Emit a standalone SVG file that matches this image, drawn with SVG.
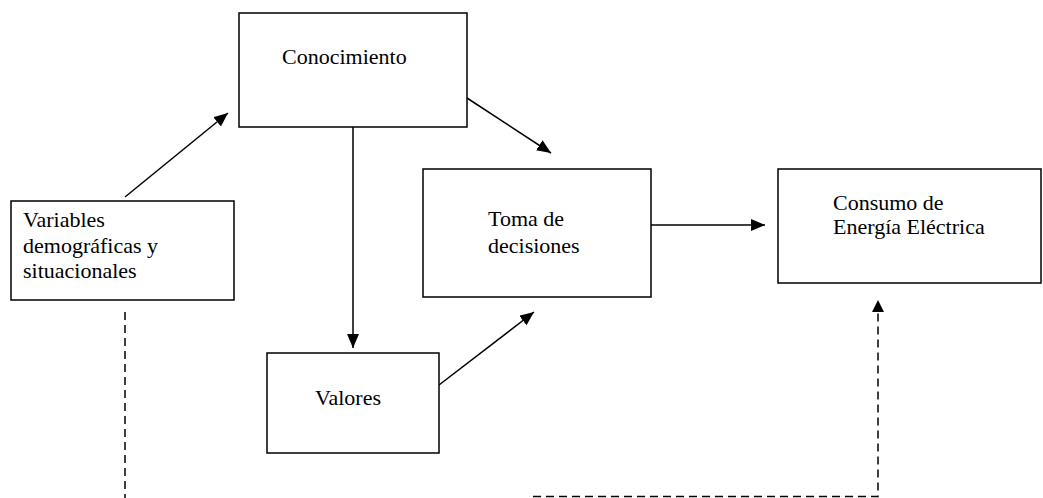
<svg xmlns="http://www.w3.org/2000/svg" width="1043" height="498" viewBox="0 0 1043 498">
<style>
.box{fill:#fff;stroke:#000;stroke-width:1.5}
.t{font-family:"Liberation Serif","Times New Roman",serif;font-size:22px;fill:#000}
.c{fill:none;stroke:#000;stroke-width:1.5}
.d{fill:none;stroke:#000;stroke-width:1.5;stroke-dasharray:8 5}
</style>
<defs>
<marker id="ah" markerWidth="14" markerHeight="12" refX="14" refY="6" orient="auto" markerUnits="userSpaceOnUse">
<path d="M0,0 L14,6 L0,12 z" fill="#000"/>
</marker>
</defs>
<rect width="1043" height="498" fill="#fff"/>
<g id="connectors">
<line class="c" x1="125" y1="197" x2="228" y2="113" marker-end="url(#ah)"/>
<line class="c" x1="467" y1="98" x2="551" y2="153" marker-end="url(#ah)"/>
<line class="c" x1="353" y1="127" x2="353" y2="348" marker-end="url(#ah)"/>
<line class="c" x1="439" y1="385" x2="534" y2="312" marker-end="url(#ah)"/>
<line class="c" x1="651" y1="225" x2="765" y2="225" marker-end="url(#ah)"/>
<line class="d" x1="125" y1="312" x2="125" y2="498"/>
<polyline class="d" points="533,496.5 878,496.5 878,312"/>
<path d="M872,312 L878,300 L884,312 z" fill="#000"/>
</g>
<g id="conocimiento">
<rect class="box" x="239" y="13" width="228" height="114"/>
<text class="t" x="282" y="64">Conocimiento</text>
</g>
<g id="variables">
<rect class="box" x="11" y="201" width="223" height="99"/>
<text class="t" x="23" y="227">Variables</text>
<text class="t" x="23" y="253">demográficas y</text>
<text class="t" x="23" y="278">situacionales</text>
</g>
<g id="toma">
<rect class="box" x="423" y="169" width="228" height="128"/>
<text class="t" x="488" y="226">Toma de</text>
<text class="t" x="488" y="253">decisiones</text>
</g>
<g id="consumo">
<rect class="box" x="778" y="169" width="263" height="114"/>
<text class="t" x="833" y="210">Consumo de</text>
<text class="t" x="833" y="234">Energía Eléctrica</text>
</g>
<g id="valores">
<rect class="box" x="267" y="353" width="172" height="100"/>
<text class="t" x="315" y="405">Valores</text>
</g>
</svg>
